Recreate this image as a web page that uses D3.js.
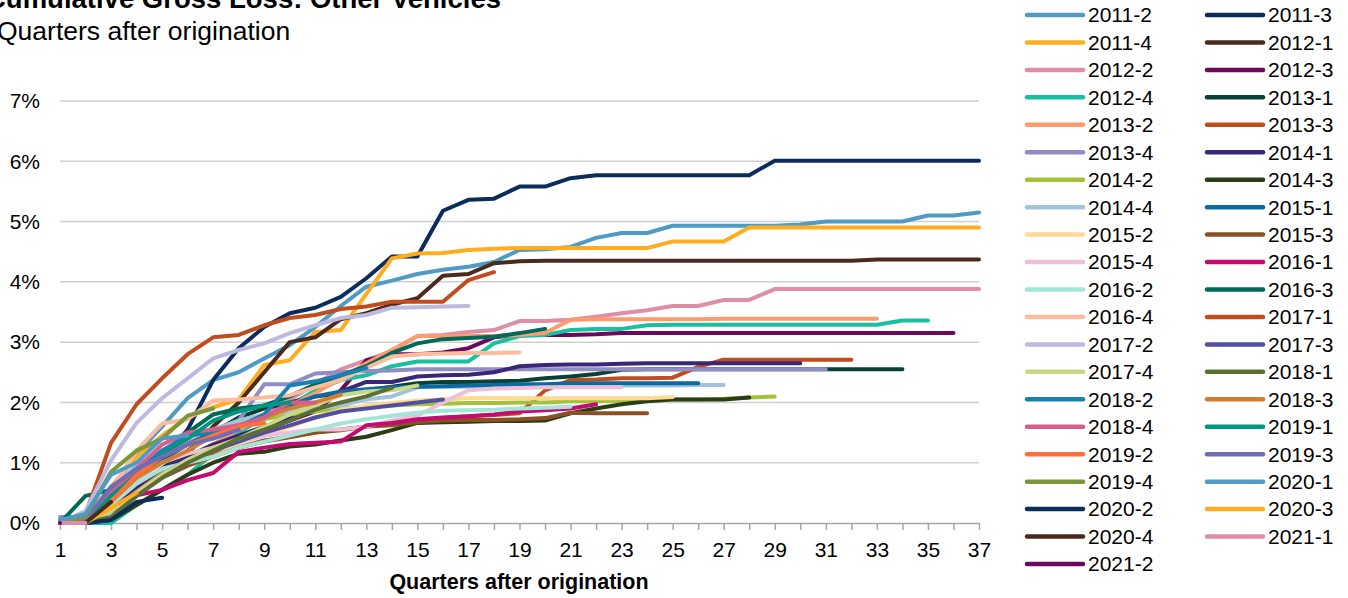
<!DOCTYPE html>
<html>
<head>
<meta charset="utf-8">
<script src="https://cdn.jsdelivr.net/npm/d3@7"></script>
<style>
  body { margin: 0; background: #fff; }
  svg { font-family: "Liberation Sans", Arial, sans-serif; }
  .grid line { stroke: #cfcfcf; stroke-width: 1.5; }
  .x.axis path, .x.axis line { stroke: #a6a6a6; stroke-width: 1.5; }
  .axis text { fill: #000; font-size: 21px; }
  .line { fill: none; stroke-width: 4; stroke-linejoin: round; stroke-linecap: round; }
</style>
</head>
<body>
<div id="chart"></div>
<script>
// DATA: cumulative gross loss (%) by quarter after origination, one array per cohort

var quarters = [1, 2, 3, 4, 5, 6, 7, 8, 9, 10, 11, 12, 13, 14, 15, 16, 17, 18, 19, 20, 21, 22, 23, 24, 25, 26, 27, 28, 29, 30, 31, 32, 33, 34, 35, 36, 37];
var yTicks = [0, 1, 2, 3, 4, 5, 6, 7];

var cohorts = ["2011-2", "2011-3", "2011-4", "2012-1", "2012-2", "2012-3", "2012-4", "2013-1", "2013-2", "2013-3",
    "2013-4", "2014-1", "2014-2", "2014-3", "2014-4", "2015-1", "2015-2", "2015-3", "2015-4", "2016-1",
    "2016-2", "2016-3", "2016-4", "2017-1", "2017-2", "2017-3", "2017-4", "2018-1", "2018-2", "2018-3",
    "2018-4", "2019-1", "2019-2", "2019-3", "2019-4", "2020-1", "2020-2", "2020-3", "2020-4", "2021-1", "2021-2"];

var c2011_2 = [0, 0.1, 0.55, 1.15, 1.6, 2.07, 2.37, 2.5, 2.73, 2.95, 3.25, 3.6, 3.92, 4.02, 4.13, 4.2, 4.25, 4.33, 4.53, 4.54, 4.58, 4.73, 4.81, 4.81, 4.93, 4.93, 4.93, 4.93, 4.93, 4.95, 5.0, 5.0, 5.0, 5.0, 5.1, 5.1, 5.15];
var c2011_3 = [0, 0.02, 0.3, 0.7, 1.05, 1.55, 2.37, 2.9, 3.25, 3.48, 3.57, 3.75, 4.06, 4.42, 4.42, 5.18, 5.36, 5.38, 5.58, 5.58, 5.72, 5.77, 5.77, 5.77, 5.77, 5.77, 5.77, 5.77, 6.01, 6.01, 6.01, 6.01, 6.01, 6.01, 6.01, 6.01, 6.01];
var c2011_4 = [0, 0.1, 0.6, 1.1, 1.45, 1.75, 1.92, 2.05, 2.62, 2.7, 3.17, 3.2, 3.8, 4.39, 4.47, 4.48, 4.53, 4.55, 4.56, 4.56, 4.56, 4.56, 4.56, 4.56, 4.67, 4.67, 4.67, 4.9, 4.9, 4.9, 4.9, 4.9, 4.9, 4.9, 4.9, 4.9, 4.9];
var c2012_1 = [0, 0, 0.3, 0.6, 0.9, 1.15, 1.6, 2.0, 2.5, 3.0, 3.08, 3.38, 3.48, 3.62, 3.73, 4.1, 4.13, 4.31, 4.34, 4.35, 4.35, 4.35, 4.35, 4.35, 4.35, 4.35, 4.35, 4.35, 4.35, 4.35, 4.35, 4.35, 4.37, 4.37, 4.37, 4.37, 4.37];
var c2012_2 = [0, 0, 0.05, 0.45, 0.8, 1.1, 1.3, 1.55, 1.8, 2.05, 2.3, 2.55, 2.7, 2.85, 3.1, 3.12, 3.17, 3.2, 3.35, 3.35, 3.37, 3.42, 3.48, 3.53, 3.6, 3.6, 3.7, 3.7, 3.88, 3.88, 3.88, 3.88, 3.88, 3.88, 3.88, 3.88, 3.88];
var c2012_3 = [0, 0, 0.15, 0.45, 0.75, 1.1, 1.3, 1.45, 1.55, 1.7, 1.85, 2.2, 2.7, 2.8, 2.8, 2.83, 2.9, 3.08, 3.12, 3.12, 3.12, 3.13, 3.15, 3.15, 3.15, 3.15, 3.15, 3.15, 3.15, 3.15, 3.15, 3.15, 3.15, 3.15, 3.15, 3.15];
var c2012_4 = [0, 0, 0, 0.3, 0.55, 0.8, 1.15, 1.5, 1.75, 1.95, 2.2, 2.37, 2.45, 2.6, 2.68, 2.68, 2.68, 2.98, 3.1, 3.12, 3.2, 3.22, 3.22, 3.28, 3.29, 3.29, 3.29, 3.29, 3.29, 3.29, 3.29, 3.29, 3.29, 3.36, 3.36];
var c2013_1 = [0, 0.05, 0.2, 0.5, 0.9, 1.2, 1.5, 1.75, 1.9, 2.0, 2.1, 2.15, 2.2, 2.26, 2.32, 2.34, 2.34, 2.35, 2.36, 2.4, 2.43, 2.47, 2.54, 2.55, 2.55, 2.55, 2.55, 2.55, 2.55, 2.55, 2.55, 2.55, 2.55, 2.55];
var c2013_2 = [0, 0, 0.25, 0.55, 0.85, 1.1, 1.3, 1.55, 1.75, 1.95, 2.15, 2.4, 2.65, 2.87, 3.1, 3.1, 3.1, 3.1, 3.12, 3.15, 3.37, 3.38, 3.38, 3.38, 3.38, 3.38, 3.39, 3.39, 3.39, 3.39, 3.39, 3.39, 3.39];
var c2013_3 = [0, 0, 0.3, 0.5, 0.8, 1.0, 1.15, 1.25, 1.35, 1.42, 1.5, 1.55, 1.6, 1.66, 1.7, 1.74, 1.77, 1.79, 1.82, 2.2, 2.37, 2.38, 2.4, 2.4, 2.41, 2.59, 2.71, 2.71, 2.71, 2.71, 2.71, 2.71];
var c2013_4 = [0.1, 0.1, 0.55, 0.9, 1.15, 1.35, 1.55, 1.7, 2.3, 2.3, 2.48, 2.5, 2.52, 2.53, 2.55, 2.55, 2.55, 2.55, 2.55, 2.55, 2.55, 2.55, 2.55, 2.55, 2.55, 2.55, 2.55, 2.55, 2.55, 2.55, 2.55];
var c2014_1 = [0, 0, 0.3, 0.6, 0.9, 1.1, 1.3, 1.45, 1.6, 1.75, 1.95, 2.18, 2.34, 2.34, 2.43, 2.45, 2.46, 2.5, 2.6, 2.62, 2.63, 2.63, 2.64, 2.65, 2.65, 2.65, 2.65, 2.65, 2.65, 2.65];
var c2014_2 = [0, 0.05, 0.5, 0.9, 1.2, 1.4, 1.55, 1.65, 1.72, 1.8, 1.85, 1.9, 1.93, 1.95, 1.97, 1.98, 1.99, 1.99, 2.0, 2.0, 2.02, 2.02, 2.03, 2.04, 2.05, 2.05, 2.06, 2.08, 2.1];
var c2014_3 = [0, 0, 0.05, 0.3, 0.55, 0.8, 1.0, 1.15, 1.18, 1.27, 1.3, 1.37, 1.43, 1.54, 1.66, 1.67, 1.68, 1.69, 1.69, 1.7, 1.82, 1.9, 1.97, 2.02, 2.05, 2.05, 2.05, 2.08];
var c2014_4 = [0, 0.05, 0.6, 0.95, 1.2, 1.4, 1.55, 1.7, 1.8, 1.85, 1.9, 1.95, 2.05, 2.1, 2.25, 2.26, 2.26, 2.27, 2.28, 2.28, 2.28, 2.28, 2.28, 2.28, 2.28, 2.29, 2.29];
var c2015_1 = [0, 0, 0.35, 0.75, 1.05, 1.3, 1.5, 1.6, 1.75, 1.95, 2.1, 2.18, 2.22, 2.25, 2.26, 2.27, 2.28, 2.29, 2.3, 2.3, 2.32, 2.32, 2.32, 2.32, 2.32, 2.32];
var c2015_2 = [0, 0, 0.15, 0.45, 0.75, 0.95, 1.1, 1.3, 1.45, 1.6, 1.75, 1.88, 1.95, 1.99, 2.03, 2.05, 2.07, 2.07, 2.07, 2.07, 2.07, 2.07, 2.07, 2.07, 2.09];
var c2015_3 = [0, 0, 0.25, 0.5, 0.75, 0.95, 1.1, 1.25, 1.37, 1.43, 1.5, 1.54, 1.6, 1.62, 1.67, 1.7, 1.71, 1.71, 1.72, 1.74, 1.83, 1.82, 1.82, 1.82];
var c2015_4 = [0, 0, 0.3, 0.7, 1.0, 1.15, 1.25, 1.35, 1.45, 1.5, 1.55, 1.55, 1.6, 1.7, 1.78, 2.0, 2.2, 2.23, 2.24, 2.25, 2.25, 2.25, 2.25];
var c2016_1 = [0, 0, 0.3, 0.46, 0.55, 0.71, 0.83, 1.18, 1.25, 1.31, 1.33, 1.35, 1.62, 1.66, 1.72, 1.75, 1.77, 1.8, 1.85, 1.87, 1.9, 1.97];
var c2016_2 = [0, 0, 0.3, 0.65, 0.9, 1.0, 1.1, 1.25, 1.35, 1.45, 1.55, 1.65, 1.72, 1.78, 1.83, 1.86, 1.87, 1.88, 1.9, 1.91, 1.93];
var c2016_3 = [0, 0.45, 0.55, 0.85, 1.15, 1.5, 1.8, 1.9, 1.95, 2.1, 2.3, 2.45, 2.6, 2.82, 2.98, 3.05, 3.07, 3.09, 3.15, 3.22];
var c2016_4 = [0, 0, 0.55, 1.2, 1.65, 1.72, 2.03, 2.05, 2.08, 2.12, 2.25, 2.37, 2.57, 2.76, 2.8, 2.81, 2.82, 2.82, 2.83];
var c2017_1 = [0, 0.15, 1.33, 1.97, 2.4, 2.8, 3.08, 3.12, 3.28, 3.4, 3.45, 3.55, 3.59, 3.67, 3.67, 3.67, 4.03, 4.16];
var c2017_2 = [0, 0.2, 1.04, 1.66, 2.07, 2.4, 2.73, 2.87, 2.98, 3.15, 3.28, 3.4, 3.45, 3.57, 3.58, 3.59, 3.6];
var c2017_3 = [0, 0, 0.2, 0.45, 0.8, 1.05, 1.2, 1.35, 1.5, 1.62, 1.75, 1.85, 1.9, 1.95, 2.0, 2.05];
var c2017_4 = [0, 0, 0.2, 0.5, 0.8, 1.05, 1.25, 1.4, 1.6, 1.8, 1.95, 2.12, 2.18, 2.2, 2.28];
var c2018_1 = [0, 0, 0.1, 0.45, 0.75, 1.0, 1.2, 1.4, 1.55, 1.7, 1.88, 2.0, 2.1, 2.24];
var c2018_2 = [0, 0, 0.55, 0.85, 1.2, 1.45, 1.5, 1.6, 1.8, 2.28, 2.35, 2.45, 2.57];
var c2018_3 = [0, 0, 0.35, 0.75, 1.0, 1.2, 1.45, 1.6, 1.75, 1.9, 2.0, 2.13];
var c2018_4 = [0, 0, 0.5, 0.9, 1.3, 1.5, 1.55, 1.62, 1.75, 2.0, 2.0];
var c2019_1 = [0, 0, 0.45, 0.8, 1.15, 1.4, 1.7, 1.85, 1.95, 2.0];
var c2019_2 = [0, 0, 0.35, 0.8, 1.1, 1.3, 1.45, 1.6, 1.66];
var c2019_3 = [0, 0.05, 0.6, 0.9, 1.1, 1.3, 1.4, 1.55];
var c2019_4 = [0, 0.1, 0.85, 1.2, 1.4, 1.78, 1.9];
var c2020_1 = [0.05, 0.15, 0.8, 1.0, 1.4, 1.45];
var c2020_2 = [0, 0, 0.05, 0.35, 0.42];
var c2020_3 = [0, 0, 0.25, 0.5];
var c2020_4 = [0, 0, 0.35];
var c2021_1 = [0, 0];
var c2021_2 = [0];

var lossValues = [c2011_2, c2011_3, c2011_4, c2012_1, c2012_2, c2012_3, c2012_4, c2013_1, c2013_2, c2013_3,
    c2013_4, c2014_1, c2014_2, c2014_3, c2014_4, c2015_1, c2015_2, c2015_3, c2015_4, c2016_1,
    c2016_2, c2016_3, c2016_4, c2017_1, c2017_2, c2017_3, c2017_4, c2018_1, c2018_2, c2018_3,
    c2018_4, c2019_1, c2019_2, c2019_3, c2019_4, c2020_1, c2020_2, c2020_3, c2020_4, c2021_1, c2021_2];

// colours follow the legend, one per cohort
var palette = ["#4f9bc5", "#0b2d5c", "#ffad1f", "#4a2a1c", "#e08ea8", "#6b0a5c", "#18c0a0", "#0a4036", "#ff9a6c", "#c14d1e",
    "#8f8dc3", "#3a2679", "#a4c13a", "#2b3d16", "#a0c4dc", "#0b6aa0", "#fed993", "#8b5124", "#efbed8", "#c50a70",
    "#a3e5d6", "#006957", "#fdbc9e", "#c14d1e", "#bdb9df", "#524fa0", "#c9d887", "#5a6f33", "#1980b4", "#d67c2f",
    "#d75e8a", "#00967f", "#ff6f3c", "#6f6db8", "#7a973a", "#4f9bc5", "#0b2d5c", "#ffad1f", "#4a2a1c", "#e08ea8", "#6b0a5c"];

var W = 1348, H = 598;
var plot = {left: 60, right: 979, top: 101, bottom: 523};

var x = d3.scaleLinear()
    .domain([quarters[0], quarters[quarters.length - 1]])
    .range([plot.left, plot.right]);

var y = d3.scaleLinear()
    .domain([0, 7])
    .range([plot.bottom, plot.top]);

var color = d3.scaleOrdinal()
    .domain(cohorts)
    .range(palette);

var svg = d3.select("#chart").append("svg")
    .attr("width", W)
    .attr("height", H);

// TITLES (the top one is clipped by the page edge, as in the original)

svg.append("text")
    .attr("x", -14)
    .attr("y", 8)
    .style("font-size", "27.5px")
    .style("font-weight", "bold")
    .text("Cumulative Gross Loss: Other Vehicles");

svg.append("text")
    .attr("x", -3)
    .attr("y", 40)
    .style("font-size", "26.5px")
    .text("Quarters after origination");

// GRIDLINES

svg.append("g")
    .attr("class", "grid")
    .selectAll("line")
    .data(yTicks.filter(function(d) { return d > 0; }))
    .enter().append("line")
    .attr("x1", plot.left)
    .attr("x2", plot.right)
    .attr("y1", function(d) { return y(d); })
    .attr("y2", function(d) { return y(d); });

// AXES

var yAxis = d3.axisLeft(y)
    .tickValues(yTicks)
    .tickSize(0)
    .tickPadding(20)
    .tickFormat(function(d) { return d + "%"; });

svg.append("g")
    .attr("class", "y axis")
    .attr("transform", "translate(" + plot.left + ",0)")
    .call(yAxis)
    .call(function(g) { g.select(".domain").remove(); });

var xAxis = d3.axisBottom(x)
    .tickValues(quarters)
    .tickSize(7)
    .tickSizeOuter(0)
    .tickPadding(12)
    .tickFormat(function(d) { return d % 2 === 1 ? d : ""; });

svg.append("g")
    .attr("class", "x axis")
    .attr("transform", "translate(0," + plot.bottom + ")")
    .call(xAxis);

svg.append("text")
    .attr("x", 519)
    .attr("y", 589)
    .attr("text-anchor", "middle")
    .style("font-size", "21.5px")
    .style("font-weight", "bold")
    .text("Quarters after origination");

// ADD LINES

var line = d3.line()
    .x(function(d, i) { return x(quarters[i]); })
    .y(function(d) { return y(d); });

svg.append("g")
    .selectAll(".line")
    .data(cohorts)
    .enter().append("path")
    .attr("class", "line")
    .attr("d", function(d, i) { return line(lossValues[i]); })
    .style("stroke", function(d) { return color(d); });

// LEGEND, two columns filled row by row

var legend = svg.append("g")
    .selectAll(".legend-item")
    .data(cohorts)
    .enter().append("g")
    .attr("class", "legend-item")
    .attr("transform", function(d, i) {
        return "translate(" + (1027 + (i % 2) * 180) + "," + (15 + Math.floor(i / 2) * 27.45) + ")";
    });

legend.append("line")
    .attr("x1", 0)
    .attr("x2", 56)
    .attr("stroke-width", 4.5)
    .attr("stroke-linecap", "round")
    .style("stroke", function(d) { return color(d); });

legend.append("text")
    .attr("x", 61)
    .attr("dy", "0.35em")
    .style("font-size", "21px")
    .text(function(d) { return d; });
</script>
</body>
</html>
